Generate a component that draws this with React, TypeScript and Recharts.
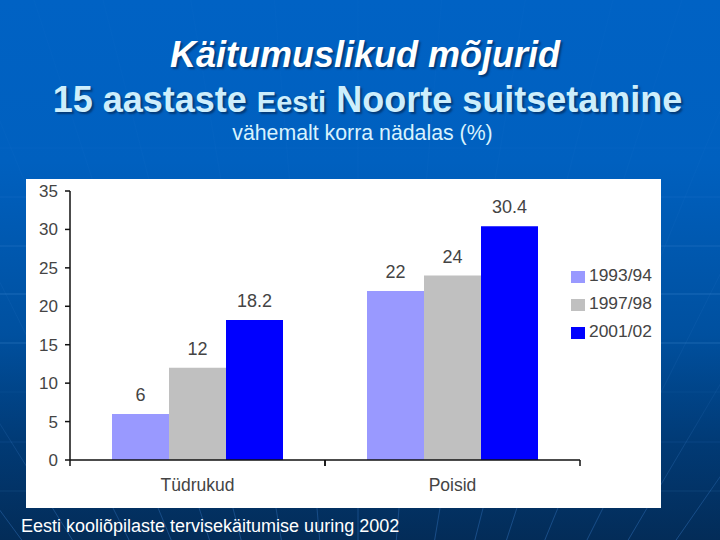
import React from 'react'
import { Bar, BarChart, LabelList, Legend, XAxis, YAxis } from 'recharts'

const GROUPS = ['Tüdrukud', 'Poisid']
const SERIES_NAMES = ['1993/94', '1997/98', '2001/02']
const VALUES_1993 = [6, 22]
const VALUES_1997 = [12, 24]
const VALUES_2001 = [18.2, 30.4]
const Y_TICKS = [0, 5, 10, 15, 20, 25, 30, 35]
const COLORS = ['#9999ff', '#c0c0c0', '#0000ff']

// faint slide background: horizontal rules and a fan of lines from below the page
const H_LINES = [
  [148, 0.06],
  [197, 0.12],
  [246, 0.22],
  [294, 0.3],
  [343, 0.3],
  [392, 0.08],
  [442, 0.12],
  [491, 0.14],
]
const FAN_X = [7, 60, 119, 163, 203, 236, 278, 318, 358, 398, 438, 480, 513, 553, 597, 640, 690]
const FAN_Y = 997
const FAN_CX = 358

const rows = GROUPS.map((name, i) => ({
  name,
  a: VALUES_1993[i],
  b: VALUES_1997[i],
  c: VALUES_2001[i],
}))

const FONT = '"Liberation Sans", Arial, sans-serif'
const BAND = 255

function GroupTick({ x, y, payload }: any) {
  return (
    <g>
      <line x1={x - BAND / 2} x2={x - BAND / 2} y1={y - 8} y2={y - 2} stroke="#111" strokeWidth={1.5} />
      <line x1={x + BAND / 2} x2={x + BAND / 2} y1={y - 8} y2={y - 2} stroke="#111" strokeWidth={1.5} />
      <text x={x} y={y + 23} textAnchor="middle" fontSize={17.5} fill="#444" fontFamily={FONT}>
        {payload.value}
      </text>
    </g>
  )
}

function LegendList() {
  return (
    <div style={{ fontFamily: FONT, fontSize: 17.4, color: '#444', whiteSpace: 'nowrap' }}>
      {SERIES_NAMES.map((name, i) => (
        <div key={name} style={{ display: 'flex', alignItems: 'center', height: 27.7 }}>
          <span
            style={{
              display: 'inline-block',
              width: 14,
              height: 12,
              marginRight: 4,
              marginTop: 3,
              background: COLORS[i],
            }}
          />
          {name}
        </div>
      ))}
    </div>
  )
}

export default function App() {
  const labelStyle = { fontSize: 18, fill: '#444', fontFamily: FONT }
  return (
    <div
      style={{
        position: 'absolute',
        left: 0,
        top: 0,
        width: 720,
        height: 540,
        overflow: 'hidden',
        background: 'linear-gradient(180deg, #0062c4 0%, #0060bf 30%, #00509f 62%, #013a75 82%, #032c58 100%)',
        fontFamily: FONT,
      }}
    >
      <svg width={720} height={540} style={{ position: 'absolute', left: 0, top: 0 }}>
        <defs>
          <linearGradient id="fan" gradientUnits="userSpaceOnUse" x1={0} y1={100} x2={0} y2={540}>
            <stop offset="0%" stopColor="#4a90e0" stopOpacity={0.03} />
            <stop offset="70%" stopColor="#4a90e0" stopOpacity={0.1} />
            <stop offset="100%" stopColor="#3a7fd0" stopOpacity={0.4} />
          </linearGradient>
        </defs>
        {H_LINES.map(([y, o]) => (
          <line key={y} x1={0} x2={720} y1={y} y2={y} stroke="#5aa0e6" strokeOpacity={o} />
        ))}
        {FAN_X.map((x) => {
          const k = (x - FAN_CX) / (FAN_Y - 520)
          return (
            <line
              key={x}
              x1={FAN_CX + k * (FAN_Y - 540)}
              y1={540}
              x2={FAN_CX + k * FAN_Y}
              y2={0}
              stroke="url(#fan)"
            />
          )
        })}
      </svg>

      <div
        style={{
          position: 'absolute',
          left: 0,
          width: 730,
          top: 35,
          textAlign: 'center',
          fontSize: 36,
          lineHeight: '40px',
          fontWeight: 700,
          fontStyle: 'italic',
          color: '#fff',
          textShadow: '2px 2px 2px #023a78',
        }}
      >
        Käitumuslikud mõjurid
      </div>
      <div
        style={{
          position: 'absolute',
          left: 0,
          width: 735,
          top: 80,
          textAlign: 'center',
          fontSize: 36,
          lineHeight: '40px',
          fontWeight: 700,
          color: '#cdeefc',
          textShadow: '2px 2px 2px #023a78',
          whiteSpace: 'nowrap',
        }}
      >
        15 aastaste <span style={{ fontSize: 29 }}>Eesti</span> Noorte suitsetamine
      </div>
      <div
        style={{
          position: 'absolute',
          left: 0,
          width: 725,
          top: 121,
          textAlign: 'center',
          fontSize: 21.3,
          lineHeight: '24px',
          fontWeight: 400,
          color: '#d8f2fd',
        }}
      >
        vähemalt korra nädalas (%)
      </div>

      <div style={{ position: 'absolute', left: 26, top: 179, width: 635, height: 329, background: '#fff' }}>
        <BarChart
          width={635}
          height={329}
          data={rows}
          margin={{ top: 12, right: 0, bottom: 0, left: 0 }}
          barGap={0}
          barSize={57}
        >
          <XAxis
            dataKey="name"
            axisLine={{ stroke: '#111', strokeWidth: 1.5 }}
            tickLine={false}
            interval={0}
            height={48}
            tick={<GroupTick />}
          />
          <YAxis
            width={44}
            domain={[0, 35]}
            ticks={Y_TICKS}
            interval={0}
            axisLine={{ stroke: '#111', strokeWidth: 1.5 }}
            tickLine={{ stroke: '#111', strokeWidth: 1.5 }}
            tickSize={5}
            tickMargin={7}
            tick={{ fontSize: 17, fill: '#444', fontFamily: FONT }}
          />
          <Legend
            layout="vertical"
            align="right"
            verticalAlign="top"
            content={<LegendList />}
            wrapperStyle={{ left: 545, top: 83, width: 81 }}
          />
          <Bar dataKey="a" name={SERIES_NAMES[0]} fill={COLORS[0]} isAnimationActive={false}>
            <LabelList dataKey="a" position="top" offset={13} style={labelStyle} />
          </Bar>
          <Bar dataKey="b" name={SERIES_NAMES[1]} fill={COLORS[1]} isAnimationActive={false}>
            <LabelList dataKey="b" position="top" offset={13} style={labelStyle} />
          </Bar>
          <Bar dataKey="c" name={SERIES_NAMES[2]} fill={COLORS[2]} isAnimationActive={false}>
            <LabelList dataKey="c" position="top" offset={13} style={labelStyle} />
          </Bar>
        </BarChart>
      </div>

      <div
        style={{
          position: 'absolute',
          left: 21,
          top: 515,
          fontSize: 18,
          lineHeight: '22px',
          color: '#fff',
          whiteSpace: 'nowrap',
        }}
      >
        Eesti kooliõpilaste tervisekäitumise uuring 2002
      </div>
    </div>
  )
}
